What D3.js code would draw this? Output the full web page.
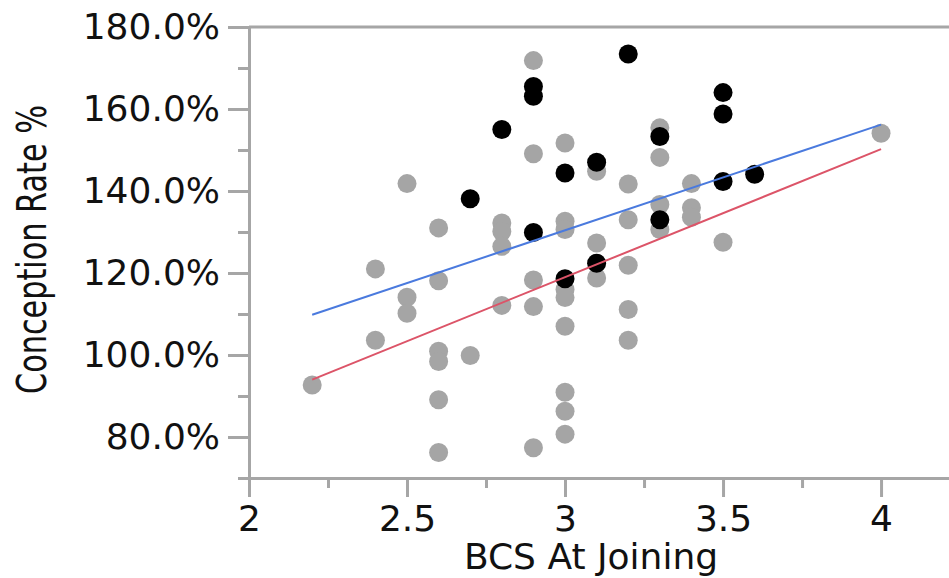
<!DOCTYPE html>
<html>
<head>
<meta charset="utf-8">
<script src="https://cdn.jsdelivr.net/npm/d3@7"></script>
<style>
  body { margin: 0; background: #fff; }
  text { font-family: "DejaVu Sans", sans-serif; fill: #111; }
</style>
</head>
<body>
<script>
/*global d3*/

var width = 949, height = 578;

// BCS at joining vs conception rate (%)
var grayPts = [
  [2.2, 92.7],
  [2.4, 121.0], [2.4, 103.6],
  [2.5, 141.8], [2.5, 114.1], [2.5, 110.2],
  [2.6, 131.0], [2.6, 118.1], [2.6, 100.9], [2.6, 98.4], [2.6, 89.1], [2.6, 76.2],
  [2.7, 99.9],
  [2.8, 132.2], [2.8, 130.1], [2.8, 126.5], [2.8, 112.1],
  [2.9, 171.8], [2.9, 149.1], [2.9, 118.3], [2.9, 111.8], [2.9, 77.4],
  [3.0, 151.7], [3.0, 132.6], [3.0, 130.6], [3.0, 116.0], [3.0, 114.0], [3.0, 107.0],
  [3.0, 90.9], [3.0, 86.3], [3.0, 80.7],
  [3.1, 144.8], [3.1, 127.3], [3.1, 118.8],
  [3.2, 141.7], [3.2, 133.0], [3.2, 121.9], [3.2, 111.1], [3.2, 103.6],
  [3.3, 155.4], [3.3, 148.2], [3.3, 136.7], [3.3, 130.6],
  [3.4, 141.8], [3.4, 135.9], [3.4, 133.6],
  [3.5, 127.5],
  [4.0, 154.1]
];

var blackPts = [
  [2.7, 138.1],
  [2.8, 155.0],
  [2.9, 165.5], [2.9, 163.1], [2.9, 129.9],
  [3.0, 144.4], [3.0, 118.6],
  [3.1, 147.0], [3.1, 122.4],
  [3.2, 173.4],
  [3.3, 153.3], [3.3, 133.0],
  [3.5, 164.0], [3.5, 158.8], [3.5, 142.3],
  [3.6, 144.1]
];

// fitted lines (end points)
var blueFit = [[2.2, 109.8], [4.0, 156.2]];
var redFit = [[2.2, 94.0], [4.0, 150.2]];

var xMajor = [2, 2.5, 3, 3.5, 4];
var xMinor = [2.25, 2.75, 3.25, 3.75];
var yMajor = [80, 100, 120, 140, 160, 180];
var yMinor = [70, 90, 110, 130, 150, 170];

var axisColor = "#a6a6a6";

var svg = d3.select("body")
  .append("svg")
  .attr("width", width)
  .attr("height", height);

var x = d3.scaleLinear().domain([2, 4.215]).range([249, 949]);
var y = d3.scaleLinear().domain([70, 180]).range([478, 27]);

// top frame line
svg.append("line")
  .attr("x1", x(2)).attr("x2", width)
  .attr("y1", y(180)).attr("y2", y(180))
  .attr("stroke", axisColor)
  .attr("stroke-width", 3);

// y axis
svg.append("g")
  .attr("transform", "translate(" + x(2) + ",0)")
  .call(d3.axisLeft(y)
    .tickValues(yMajor)
    .tickSize(21)
    .tickSizeOuter(0)
    .tickPadding(8)
    .tickFormat(function (d) { return d.toFixed(1) + "%"; }));

svg.append("g")
  .attr("transform", "translate(" + x(2) + ",0)")
  .call(d3.axisLeft(y).tickValues(yMinor).tickSize(11).tickSizeOuter(0).tickFormat(""));

// x axis
svg.append("g")
  .attr("transform", "translate(0," + y(70) + ")")
  .call(d3.axisBottom(x)
    .tickValues(xMajor)
    .tickSize(19)
    .tickSizeOuter(0)
    .tickPadding(8)
    .tickFormat(d3.format("")));

svg.append("g")
  .attr("transform", "translate(0," + y(70) + ")")
  .call(d3.axisBottom(x).tickValues(xMinor).tickSize(10).tickSizeOuter(0).tickFormat(""));

svg.selectAll(".domain, .tick line")
  .attr("stroke", axisColor)
  .attr("stroke-width", 3);

svg.selectAll(".tick text")
  .attr("font-size", 36)
  .attr("font-family", "DejaVu Sans")
  .attr("fill", "#111");

// points
svg.append("g").selectAll("circle")
  .data(grayPts)
  .join("circle")
  .attr("cx", function (d) { return x(d[0]); })
  .attr("cy", function (d) { return y(d[1]); })
  .attr("r", 9.5)
  .attr("fill", "#a5a5a5");

svg.append("g").selectAll("circle")
  .data(blackPts)
  .join("circle")
  .attr("cx", function (d) { return x(d[0]); })
  .attr("cy", function (d) { return y(d[1]); })
  .attr("r", 9.5)
  .attr("fill", "#000");

// fit lines
var line = d3.line()
  .x(function (d) { return x(d[0]); })
  .y(function (d) { return y(d[1]); });

svg.append("path")
  .datum(blueFit)
  .attr("d", line)
  .attr("fill", "none")
  .attr("stroke", "#4a7ade")
  .attr("stroke-width", 2);

svg.append("path")
  .datum(redFit)
  .attr("d", line)
  .attr("fill", "none")
  .attr("stroke", "#dc5468")
  .attr("stroke-width", 2);

// axis titles
svg.append("text")
  .attr("x", 591)
  .attr("y", 569)
  .attr("text-anchor", "middle")
  .attr("font-size", 36)
  .text("BCS At Joining");

svg.append("text")
  .attr("transform", "translate(46,249.5) rotate(-90)")
  .attr("text-anchor", "middle")
  .attr("font-size", 40)
  .attr("textLength", 289)
  .attr("lengthAdjust", "spacingAndGlyphs")
  .attr("fill", "#222")
  .text("Conception Rate %");
</script>
</body>
</html>
